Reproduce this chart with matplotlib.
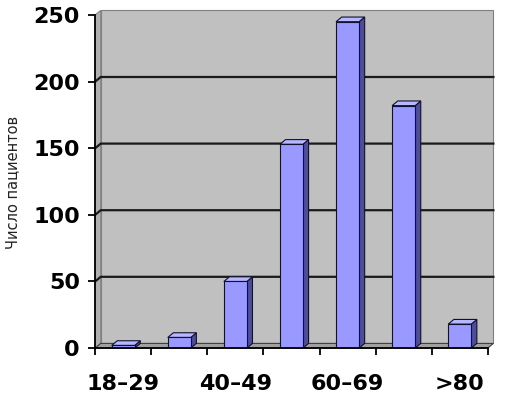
import numpy as np
import matplotlib.pyplot as plt
from matplotlib.patches import Polygon

# data
age_groups = ['18–29', '30–39', '40–49', '50–59', '60–69', '70–79', '>80']
patients = [2, 8, 50, 153, 245, 182, 18]
shown_labels = ['18–29', '', '40–49', '', '60–69', '', '>80']

front_col = '#9999FF'
side_col = '#4D4D99'
top_col = '#B8B8FF'
edge_col = '#101030'
wall_col = '#C0C0C0'

plt.rcParams['font.family'] = ['DejaVu Sans']
plt.rcParams['font.weight'] = 'bold'

fig = plt.figure(figsize=(5.06, 3.96), dpi=100)
ax = fig.add_axes([0.188, 0.121, 0.776, 0.841])
ax.set_xlim(-0.5, 6.5)
ax.set_ylim(0, 250)
ax.patch.set_visible(False)

# depth of the fake 3d effect in data units
dx = 0.1
dy = 3.5
x0, x1 = -0.5, 6.5
top = 250

# back wall, side wall and floor
wall = Polygon([(x0 + dx, dy), (x1 + dx, dy), (x1 + dx, top + dy), (x0 + dx, top + dy)],
               closed=True, facecolor=wall_col, edgecolor='#808080', lw=0.8,
               clip_on=False, zorder=0)
ax.add_patch(wall)
side = Polygon([(x0, 0), (x0 + dx, dy), (x0 + dx, top + dy), (x0, top)],
               closed=True, facecolor='#B0B0B0', edgecolor='#808080', lw=0.8,
               clip_on=False, zorder=0)
ax.add_patch(side)
floor = Polygon([(x0, 0), (x1, 0), (x1 + dx, dy), (x0 + dx, dy)],
                closed=True, facecolor='#A0A0A0', edgecolor='#404040', lw=0.8,
                clip_on=False, zorder=0.5)
ax.add_patch(floor)

# gridlines on the wall
for g in [50, 100, 150, 200]:
    ax.plot([x0, x0 + dx, x1 + dx], [g, g + dy, g + dy], color='#1a1a1a',
            lw=1.6, zorder=0.6, clip_on=False)

# bars
xs = np.arange(len(age_groups))
w = 0.41
ax.bar(xs, patients, width=w, color=front_col, edgecolor=edge_col, lw=0.8, zorder=3)
for x, v in zip(xs, patients):
    l, r = x - w / 2, x + w / 2
    ax.add_patch(Polygon([(r, 0), (r + dx, dy), (r + dx, v + dy), (r, v)],
                         closed=True, facecolor=side_col, edgecolor=edge_col,
                         lw=0.8, zorder=2.9, clip_on=False))
    ax.add_patch(Polygon([(l, v), (r, v), (r + dx, v + dy), (l + dx, v + dy)],
                         closed=True, facecolor=top_col, edgecolor=edge_col,
                         lw=0.8, zorder=2.9, clip_on=False))

# axes
for s in ['top', 'right']:
    ax.spines[s].set_visible(False)
ax.spines['left'].set_linewidth(1.3)
ax.spines['bottom'].set_linewidth(1.3)
ax.spines['left'].set_zorder(4)
ax.spines['bottom'].set_zorder(4)

ax.set_yticks([0, 50, 100, 150, 200, 250])
ax.set_xticks(xs)
ax.set_xticklabels(shown_labels)
ax.set_xticks(np.arange(-0.5, 7, 1), minor=True)
ax.tick_params(axis='x', which='major', length=0, pad=19, labelsize=16)
ax.tick_params(axis='x', which='minor', length=5, width=1.3, direction='out')
ax.tick_params(axis='y', length=5, width=1.3, direction='out', pad=6, labelsize=16)

fig.text(0.026, 0.54, 'Число пациентов', rotation=90, va='center', ha='center',
         fontsize=10.5, fontweight='normal', color='#222222',
         family='Liberation Sans Narrow')

plt.savefig('out.png', dpi=100)
